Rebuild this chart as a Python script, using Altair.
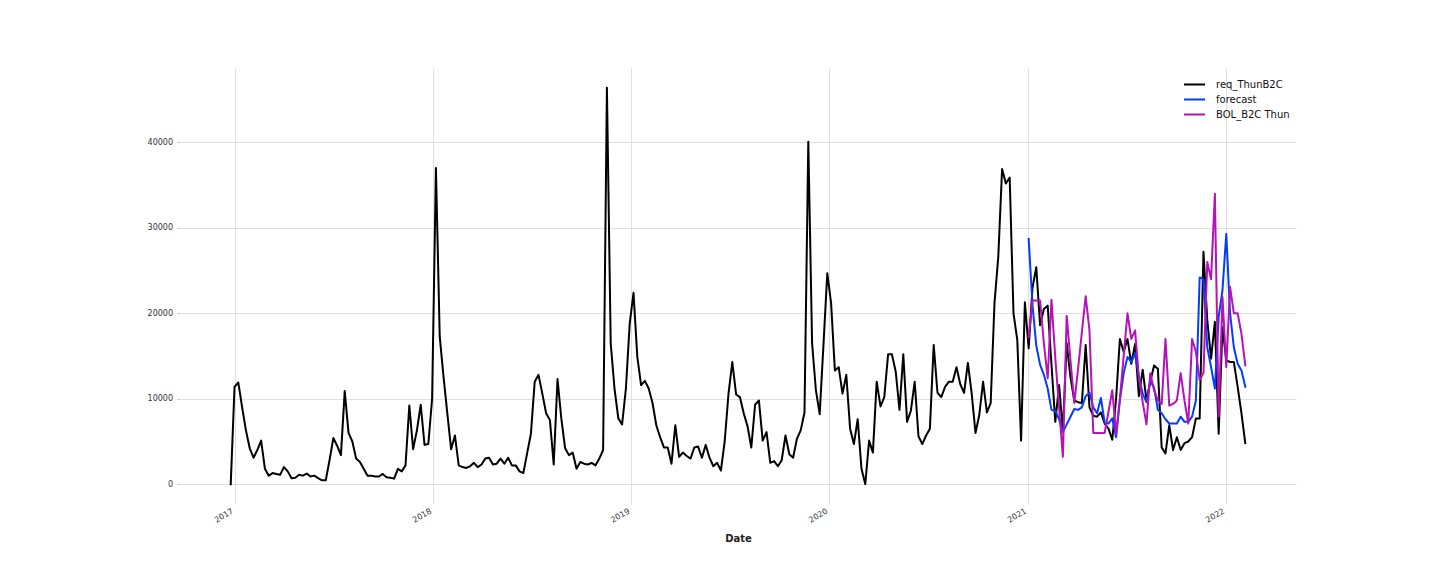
import altair as alt
import pandas as pd

# ---- data (weekly, starting 2016-12-25) ----
start_date = "2016-12-25"
req_thun = [
    0, 11400, 11900, 9000, 6300, 4200, 3100, 4000, 5100, 1800,
    1000, 1300, 1200, 1100, 2000, 1500, 700, 750, 1100, 1000,
    1250, 900, 1000, 700, 450, 450, 2800, 5400, 4500, 3400,
    10900, 6000, 5000, 3000, 2600, 1800, 1000, 1000, 900, 900,
    1200, 800, 750, 650, 1800, 1500, 2200, 9200, 4100, 6300,
    9300, 4600, 4700, 10000, 37000, 17300, 12600, 8300, 4100, 5700,
    2200, 2000, 1900, 2100, 2500, 2000, 2300, 3000, 3100, 2300,
    2400, 3000, 2400, 3100, 2200, 2200, 1500, 1300, 3600, 5900,
    12000, 12800, 10600, 8300, 7500, 2300, 12300, 7700, 4200, 3400,
    3700, 1800, 2600, 2400, 2300, 2500, 2200, 3000, 4000, 46400,
    16500, 11200, 7700, 7000, 11200, 18800, 22400, 14900, 11600, 12100,
    11200, 9500, 6900, 5500, 4300, 4300, 2400, 6900, 3200, 3700,
    3300, 3000, 4300, 4400, 3100, 4600, 3100, 2100, 2500, 1600,
    5000, 10600, 14300, 10500, 10200, 8300, 6800, 4300, 9300, 9800,
    5100, 6100, 2500, 2700, 2100, 2800, 5700, 3500, 3100, 5300,
    6300, 8400, 40100, 16500, 11000, 8200, 16400, 24700, 21200, 13300,
    13700, 10600, 12800, 6500, 4700, 7600, 1800, 0, 5100, 3700,
    12000, 9100, 10200, 15200, 15200, 13200, 8700, 15200, 7300, 8600,
    12000, 5600, 4700, 5700, 6500, 16300, 10700, 10200, 11400, 12000,
    12000, 13700, 11700, 10700, 14200, 10600, 6000, 8100, 12000, 8400,
    9500, 21200, 26600, 36900, 35200, 35900, 20000, 16900, 5100, 21300,
    15900, 23000, 25400, 18600, 20500, 20900, 14000, 7300, 11600, 6200,
    16500, 12500, 9800, 9600, 9500, 16300, 9000, 8000, 7900, 8400,
    7100, 6500, 5200, 10000, 17000, 15500, 17000, 14100, 16400, 10300,
    13400, 9800, 12000, 13900, 13500, 4300, 3600, 6900, 4000, 5500,
    4000, 4800, 5000, 5500, 7700, 7700, 27200, 19200, 14700, 19000,
    5900, 18400, 14500, 14300, 14300, 11400, 8300, 4800,
]

# forecast and BOL start 2021-01-03 (week index 210)
forecast_start = "2021-01-03"
forecast = [
    28700, 21000, 16200, 14000, 12800, 11200, 8700, 8600, 7600, 6100,
    7000, 7900, 8800, 8700, 9000, 10300, 10700, 9000, 8300, 10100,
    7200, 7100, 7700, 5500, 9800, 13000, 14900, 14300, 15300, 12600,
    10600, 9600, 12100, 11300, 8700, 8300, 7600, 7100, 7100, 7100,
    7900, 7300, 7300, 7900, 9800, 24200, 24000, 16000, 13700, 11200,
    19600, 22700, 29300, 20000, 16000, 14100, 13300, 11400,
]
bol_thun = [
    17200, 21500, 21500, 21500, 16500, 12400, 21600, 14800, 9000, 3200,
    19700, 14500, 9500, 13500, 17800, 22000, 18000, 6000, 6000, 6000,
    6000, 8500, 11000, 5900, 10000, 15000, 20000, 17000, 18000, 12500,
    9600, 7000, 13000, 11000, 9800, 9400, 17000, 9200, 9400, 9800,
    13000, 9800, 7100, 17000, 15500, 12200, 13000, 26000, 24000, 34000,
    7900, 21900, 13700, 23100, 20000, 20000, 17600, 13900,
]

series_names = ["req_ThunB2C", "forecast", "BOL_B2C Thun"]
series_colors = ["#000000", "#003DFD", "#b512b8"]
y_ticks = [0, 10000, 20000, 30000, 40000]
x_tick_years = [2017, 2018, 2019, 2020, 2021, 2022]

dates_all = pd.date_range(start_date, periods=len(req_thun), freq="7D")
dates_fc = pd.date_range(forecast_start, periods=len(forecast), freq="7D")

frames = [
    pd.DataFrame({"date": dates_all, "value": req_thun, "series": series_names[0]}),
    pd.DataFrame({"date": dates_fc, "value": forecast, "series": series_names[1]}),
    pd.DataFrame({"date": dates_fc, "value": bol_thun, "series": series_names[2]}),
]
df = pd.concat(frames, ignore_index=True)
df["date"] = df["date"].dt.strftime("%Y-%m-%dT%H:%M:%S")

color_scale = alt.Scale(domain=series_names, range=series_colors)

x_enc = alt.X(
    "date:T",
    title="Date",
    scale=alt.Scale(
        domain=[
            alt.DateTime(year=2016, month=9, date=22, hours=13),
            alt.DateTime(year=2022, month=5, date=10, hours=11),
        ]
    ),
    axis=alt.Axis(
        values=[alt.DateTime(year=y, month=1, date=1) for y in x_tick_years],
        format="%Y",
        labelAngle=-30,
        labelAlign="right",
        labelBaseline="top",
        labelOffset=-4,
        labelPadding=3,
        ticks=False,
        titleFontWeight="bold",
        titleFontSize=10,
        titleColor="#222222",
        titlePadding=9,
    ),
)
y_enc = alt.Y(
    "value:Q",
    title=None,
    scale=alt.Scale(domain=[-2320, 48720], nice=False, zero=False),
    axis=alt.Axis(
        values=y_ticks,
        format="d",
        tickSize=3.5,
        tickColor="#cccccc",
        labelPadding=4,
    ),
)
color_enc = alt.Color(
    "series:N",
    scale=color_scale,
    legend=alt.Legend(
        title=None,
        orient="none",
        legendX=1008,
        legendY=10,
        symbolType="M-2,0H2",
        symbolSize=110,
        symbolStrokeWidth=2,
        labelFontSize=10,
        labelFont="DejaVu Sans",
        labelColor="#111111",
        labelOffset=15,
        rowPadding=3,
        padding=0,
    ),
)

layers = []
for name in series_names:
    layers.append(
        alt.Chart(df)
        .transform_filter(alt.datum.series == name)
        .mark_line(strokeWidth=2, strokeJoin="round", strokeCap="square")
        .encode(x=x_enc, y=y_enc, color=color_enc)
    )

chart = (
    alt.layer(*layers)
    .properties(
        width=1116,
        height=436,
        autosize=alt.AutoSizeParams(type="none"),
        padding={"left": 180, "top": 68, "right": 144, "bottom": 72},
        background="white",
    )
    .configure_view(stroke=None)
    .configure_axis(
        domain=False,
        grid=True,
        gridColor="#e0e0e0",
        gridWidth=1,
        labelFont="DejaVu Sans",
        labelFontSize=8,
        labelColor="#333333",
        titleFont="DejaVu Sans",
    )
)

chart.save("out.html", embed_options={"renderer": "svg", "actions": False})
